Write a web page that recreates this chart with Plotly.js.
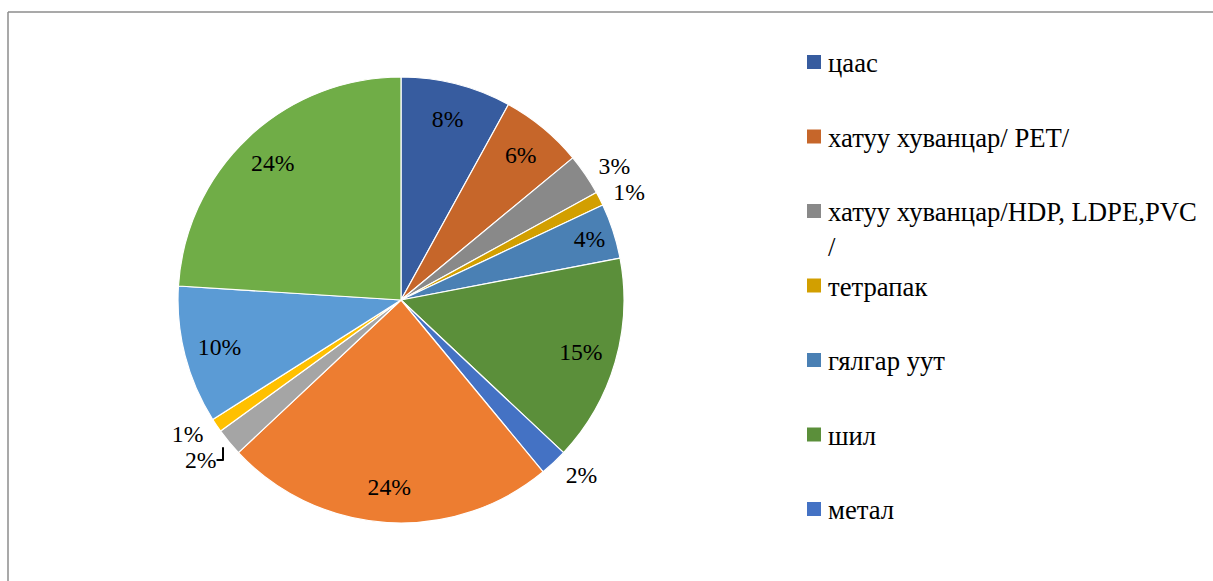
<!DOCTYPE html>
<html>
<head>
<meta charset="utf-8">
<script src="https://cdn.plot.ly/plotly-3.0.1.min.js"></script>
<style>
html,body{margin:0;padding:0;background:#ffffff;}
#chart{width:1213px;height:581px;}
</style>
</head>
<body>
<div id="chart"></div>
<script>
// ---- data ----
const categories = [
  "цаас",
  "хатуу хуванцар/ PET/",
  "хатуу хуванцар/HDP, LDPE,PVC /",
  "тетрапак",
  "гялгар уут",
  "шил",
  "метал",
  "хүнсний хог",
  "даавуу",
  "мод",
  "үнс шороо",
  "бусад"
];
const shares = [8, 6, 3, 1, 4, 15, 2, 24, 2, 1, 10, 24];
const sliceColors = [
  "#375C9F", "#C6662A", "#898989", "#D29F00", "#4A80B4", "#5B8F3A",
  "#4472C4", "#ED7D31", "#A5A5A5", "#FFC000", "#5B9BD5", "#70AD47"
];
const labelPlacement = [
  "inside", "inside", "outside", "outside", "inside", "inside",
  "outside", "inside", "outside", "outside", "inside", "inside"
];
const legendVisibleCount = 7; // the legend box only has room for the first 7 entries

// ---- layout geometry ----
const W = 1213, H = 581;
const cx = 401, cy = 300, R = 223, Rout = 231;
const domainFor = r => ({
  x: [(cx - r) / W, (cx + r) / W],
  y: [(H - cy - r) / H, (H - cy + r) / H]
});
const serif = "Liberation Serif, Times New Roman, serif";
const pctSize = 23.7, legendSize = 26.7;
const clear = categories.map(() => "rgba(0,0,0,0)");

const basePie = {
  type: "pie",
  labels: categories,
  values: shares,
  sort: false,
  direction: "clockwise",
  rotation: 0,
  domain: domainFor(R),
  marker: {colors: sliceColors, line: {color: "#ffffff", width: 1.2}},
  textinfo: "none",
  showlegend: false,
  hoverinfo: "label+percent"
};

// transparent ring that carries the labels drawn inside the slices
const insideLabels = {
  type: "pie",
  labels: categories,
  values: shares,
  sort: false,
  direction: "clockwise",
  rotation: 0,
  hole: 0.68,
  domain: domainFor(R),
  marker: {colors: clear, line: {width: 0}},
  texttemplate: "%{percent:.0%}",
  textposition: labelPlacement.map(p => p === "inside" ? "inside" : "none"),
  insidetextorientation: "horizontal",
  textfont: {family: serif, size: pctSize, color: "#000000"},
  insidetextfont: {family: serif, size: pctSize, color: "#000000"},
  showlegend: false,
  hoverinfo: "skip"
};

// transparent disc, a little wider, that carries the labels set outside the slices
const outsideLabels = {
  type: "pie",
  labels: categories,
  values: shares,
  sort: false,
  direction: "clockwise",
  rotation: 0,
  domain: domainFor(Rout),
  marker: {colors: clear, line: {width: 0}},
  texttemplate: "%{percent:.0%}",
  textposition: labelPlacement.map(p => p === "outside" ? "outside" : "none"),
  textfont: {family: serif, size: pctSize, color: "#000000"},
  outsidetextfont: {family: serif, size: pctSize, color: "#000000"},
  showlegend: false,
  hoverinfo: "skip"
};

// ---- hand-drawn legend (first entries only, as in the reference) ----
const legendX = 807, legendTextX = 826, legendTop = 62, legendStep = 74.5, sq = 14;
const shapes = [
  {type: "line", xref: "paper", yref: "paper", x0: 8 / W, x1: 1, y0: (H - 12) / H, y1: (H - 12) / H,
   line: {color: "#8c8c8c", width: 1.5}},
  {type: "line", xref: "paper", yref: "paper", x0: 8 / W, x1: 8 / W, y0: 0, y1: (H - 12) / H,
   line: {color: "#8c8c8c", width: 1.5}}
];
const annotations = [];
for (let i = 0; i < legendVisibleCount; i++) {
  const yc = legendTop + i * legendStep;
  shapes.push({
    type: "rect", xref: "paper", yref: "paper",
    x0: legendX / W, x1: (legendX + sq) / W,
    y0: (H - yc - sq / 2) / H, y1: (H - yc + sq / 2) / H,
    fillcolor: sliceColors[i], line: {width: 0}
  });
  annotations.push({
    xref: "paper", yref: "paper",
    x: legendTextX / W, y: (H - yc + 16) / H,
    xanchor: "left", yanchor: "top", align: "left",
    showarrow: false,
    text: categories[i].replace(/ \/$/, "<br>/"),
    font: {family: serif, size: legendSize, color: "#000000"}
  });
}

const layout = {
  width: W, height: H,
  margin: {l: 0, r: 0, t: 0, b: 0},
  paper_bgcolor: "#ffffff",
  plot_bgcolor: "#ffffff",
  showlegend: false,
  shapes: shapes,
  annotations: annotations
};

Plotly.newPlot("chart", [basePie, insideLabels, outsideLabels], layout, {displayModeBar: false, staticPlot: true});
</script>
</body>
</html>
